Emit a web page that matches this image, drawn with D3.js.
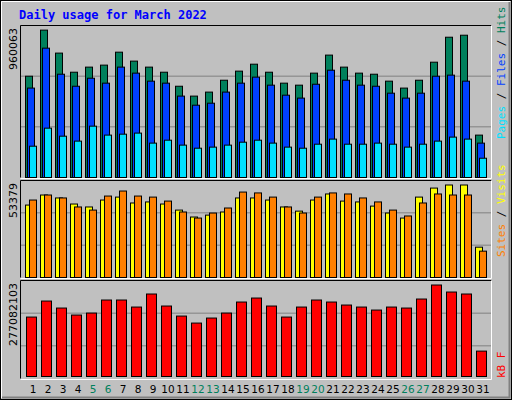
<!DOCTYPE html>
<html><head><meta charset="utf-8">
<script src="https://cdn.jsdelivr.net/npm/d3@7"></script>
<style>body{margin:0;background:#fff}svg{display:block}</style>
</head><body>
<script>
const days = d3.range(1, 32);
const weekendDays = [5,6,12,13,19,20,26,27];
const hits  = [657,956,807,683,716,729,813,755,716,683,592,528,554,631,690,735,683,612,599,677,794,716,677,670,625,580,631,748,910,923,275].map(v=>v*1000);
const files = [580,839,670,592,644,612,716,677,625,612,528,469,482,554,612,651,599,534,515,605,696,631,599,592,547,515,547,657,664,625,223].map(v=>v*1000);
const pages = [203,320,268,236,333,275,281,288,223,242,210,190,197,210,229,242,223,197,190,216,249,216,216,223,216,197,216,236,262,249,125].map(v=>v*1000);
const visits = [41.8,47.6,45.9,42.4,40.7,44.7,46.4,43.0,43.6,42.4,38.9,34.9,36.0,37.8,45.9,45.9,44.7,40.7,38.3,44.7,48.2,44.1,43.6,41.2,37.2,34.3,46.4,51.6,53.379,53.379,17.5].map(v=>v*1000);
const sites  = [44.7,47.6,45.9,40.7,38.9,47.0,49.9,47.0,46.4,44.1,37.8,34.3,37.2,40.1,49.3,48.8,46.4,40.7,37.2,46.4,48.8,48.2,45.9,43.6,38.9,35.5,43.0,48.2,47.6,47.6,15.2].map(v=>v*1000);
const kbytes = [180.0,228.5,207.3,186.1,192.1,231.6,231.6,210.3,249.8,213.4,183.0,161.8,177.0,192.1,225.5,237.6,213.4,180.0,210.3,231.6,225.5,216.4,210.3,201.2,210.3,207.3,234.6,277.082103,255.8,249.8,76.9].map(v=>v*1e6);
const maxLabels = ["960063","53379","277082103"];

const W=512,H=400;
const svg=d3.select("body").append("svg").attr("width",W).attr("height",H);
svg.append("rect").attr("x",0).attr("y",0).attr("width",W).attr("height",H).attr("fill","#C0C0C0");
// outer frame
svg.append("rect").attr("x",0.5).attr("y",0.5).attr("width",W-1).attr("height",H-1).attr("fill","none").attr("stroke","#000");
svg.append("path").attr("d",`M1.5,${H-2}V1.5H${W-2}`).attr("stroke","#fff").attr("fill","none");
svg.append("path").attr("d",`M${W-2.5},2V${H-2.5}H2`).attr("stroke","#808080").attr("stroke-width",2).attr("fill","none");

svg.append("text").attr("x",19).attr("y",19).text("Daily usage for March 2022")
  .attr("font-family","DejaVu Sans Mono").attr("font-weight","bold").attr("font-size",12).attr("fill","#0000FF");

const x=d3.scaleLinear().domain([1,31]).range([25,475]);
const L=20,R=491;
const panels=[{top:25,bot:177,max:960063},{top:180,bot:277,max:53379},{top:280,bot:378,max:277082103}];

function panel(p){
  const g=svg.append("g");
  const h=p.bot-p.top;
  [1,2].forEach(k=>g.append("line").attr("x1",L).attr("x2",R).attr("y1",p.bot-h*k/3+0.5).attr("y2",p.bot-h*k/3+0.5).attr("stroke","#808080"));
  g.append("path").attr("d",`M${L+0.5},${p.bot+0.5}V${p.top+0.5}H${R+0.5}`).attr("stroke","#000").attr("fill","none");
  g.append("path").attr("d",`M${L+0.5},${p.bot+1.5}H${R+0.5}V${p.top+0.5}`).attr("stroke","#fff").attr("fill","none");
}
panels.forEach(panel);

function bars(data,y,off,w,color,base){
  svg.append("g").selectAll("rect").data(data).join("rect")
    .attr("x",(d,i)=>x(days[i])+off+0.5).attr("width",w)
    .attr("y",d=>y(d)+0.5).attr("height",d=>base-y(d))
    .attr("fill",color).attr("stroke","#000");
}
const y1=d3.scaleLinear().domain([0,960063]).range([177,29]);
bars(hits,y1,0,7,"#00805C",177);
bars(files,y1,2,7,"#0040FF",177);
bars(pages,y1,4,7,"#00E0FF",177);
const y2=d3.scaleLinear().domain([0,53379]).range([277,184.5]);
bars(visits,y2,0,7,"#FFFF00",277);
bars(sites,y2,4,7,"#FF8000",277);
const y3=d3.scaleLinear().domain([0,277082103]).range([376,284.5]);
bars(kbytes,y3,1,10,"#FF0000",376);

// max labels
[[28,0],[183,1],[283,2]].forEach(([t,i])=>{
  svg.append("text").attr("transform",`translate(17,${t}) rotate(-90)`).attr("text-anchor","end")
    .attr("font-family","DejaVu Sans").attr("font-size",11).attr("fill","#000").text(maxLabels[i]);
});
// right legends
function legend(yb,parts){
  const t=svg.append("text").attr("transform",`translate(505,${yb}) rotate(-90)`)
    .attr("font-family","DejaVu Sans Mono").attr("font-size",11);
  parts.forEach(([s,c])=>t.append("tspan").attr("fill",c).text(s));
}
legend(139,[["Pages","#00E0FF"],[" / ","#000"],["Files","#0040FF"],[" / ","#000"],["Hits","#00805C"]]);
legend(257,[["Sites","#FF8000"],[" / ","#000"],["Visits","#FFFF00"]]);
legend(378,[["kB F","#FF0000"]]);

svg.append("g").selectAll("text").data(days).join("text")
  .attr("x",d=>x(d)+8).attr("y",393).attr("text-anchor","middle")
  .attr("font-family","DejaVu Sans").attr("font-size",10.5)
  .attr("fill",d=>weekendDays.includes(d)?"#00805C":"#000").text(d=>d);
</script>
</body></html>
